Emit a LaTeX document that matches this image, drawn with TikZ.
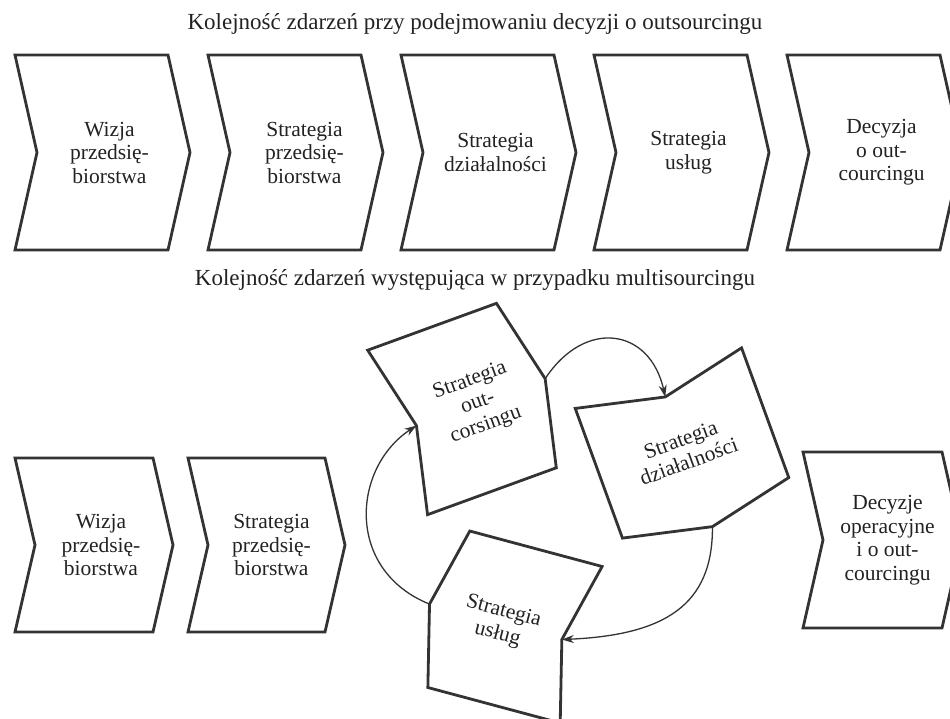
\documentclass[tikz,border=0pt]{standalone}
\usepackage{fontspec}
\setmainfont{Liberation Serif}
\usetikzlibrary{arrows.meta,calc}
\definecolor{ink}{HTML}{333333}
\definecolor{txt}{HTML}{222222}
\tikzset{
  chevline/.style={draw=ink, line width=2.8pt, line join=miter},
  lbl/.style={align=center, font=\fontsize{21.5}{23.5}\selectfont, text=txt, inner sep=0pt},
  ttl/.style={font=\fontsize{23}{25}\selectfont, text=txt, inner sep=0pt},
  flow/.style={draw=ink, line width=1.3pt, -{Stealth[length=12pt,width=8pt]}},
}
% name, cx, cy, w, h, d, rotation, text offset
\newcommand{\chevshape}[8]{%
  \begin{scope}[shift={(#2,#3)}, rotate=#7]
    \coordinate (#1-tl) at ({-#4/2},{-#5/2});
    \coordinate (#1-tr) at ({#4/2},{-#5/2});
    \coordinate (#1-tip) at ({#4/2+#6},0);
    \coordinate (#1-br) at ({#4/2},{#5/2});
    \coordinate (#1-bl) at ({-#4/2},{#5/2});
    \coordinate (#1-notch) at ({-#4/2+#6},0);
    \coordinate (#1-c) at (#8,0);
    \draw[chevline] (#1-tl) -- (#1-tr) -- (#1-tip) -- (#1-br) -- (#1-bl) -- (#1-notch) -- cycle;
  \end{scope}}
\begin{document}
\begin{tikzpicture}[x=1pt,y=-1pt]
\useasboundingbox (0,0) rectangle (950,719);
\clip (0,0) rectangle (950,719);
\fill[white] (0,0) rectangle (950,719);

% titles
\node[ttl] (title1) at (475,24) {Kolejność zdarzeń przy podejmowaniu decyzji o outsourcingu};
\node[ttl] (title2) at (475,280) {Kolejność zdarzeń występująca w przypadku multisourcingu};

% top row
\chevshape{a1}{91.5}{152.5}{153}{195}{22}{0}{18}
\chevshape{a2}{284.5}{152.5}{153}{195}{22}{0}{20}
\chevshape{a3}{477.5}{152.5}{153}{195}{22}{0}{18}
\chevshape{a4}{670.5}{152.5}{153}{195}{22}{0}{18}
\chevshape{a5}{863.5}{152.5}{153}{195}{22}{0}{18}
\node[lbl] (ta1) at (a1-c) {Wizja\\przedsię-\\biorstwa};
\node[lbl] (ta2) at (a2-c) {Strategia\\przedsię-\\biorstwa};
\node[lbl] (ta3) at (a3-c) {Strategia\\działalności};
\node[lbl] (ta4) at (a4-c) {Strategia\\usług};
\node[lbl] (ta5) at (a5-c) {Decyzja\\o out-\\courcingu};

% bottom row
\chevshape{b1}{84}{545}{138}{174}{20}{0}{17}
\chevshape{b2}{256.5}{545}{137}{174}{20}{0}{15}
\chevshape{b3}{872.5}{540}{139}{176}{20}{0}{15}
\node[lbl] (tb1) at (b1-c) {Wizja\\przedsię-\\biorstwa};
\node[lbl] (tb2) at (b2-c) {Strategia\\przedsię-\\biorstwa};
\node[lbl] (tb3) at (b3-c) {Decyzje\\operacyjne\\i o out-\\courcingu};

% rotated cycle
\chevshape{s1}{462}{409}{137}{175}{20}{20}{17}
\chevshape{s2}{682}{443}{138}{177}{20}{-70}{8}
\chevshape{s3}{515}{627}{137}{162}{20}{165}{15}
\node[lbl, rotate=20] (ts1) at (s1-c) {Strategia\\out-\\corsingu};
\node[lbl, rotate=20] (ts2) at (s2-c) {Strategia\\działalności};
\node[lbl, rotate=-15] (ts3) at (s3-c) {Strategia\\usług};

% connectors
\draw[flow] (s1-tip) .. controls (585,318) and (650,328) .. (s2-notch);
\draw[flow] (s2-tip) .. controls (713,605) and (665,635) .. (s3-notch);
\draw[flow] (s3-tip) .. controls (345,570) and (352,468) .. (s1-notch);
\end{tikzpicture}
\end{document}
